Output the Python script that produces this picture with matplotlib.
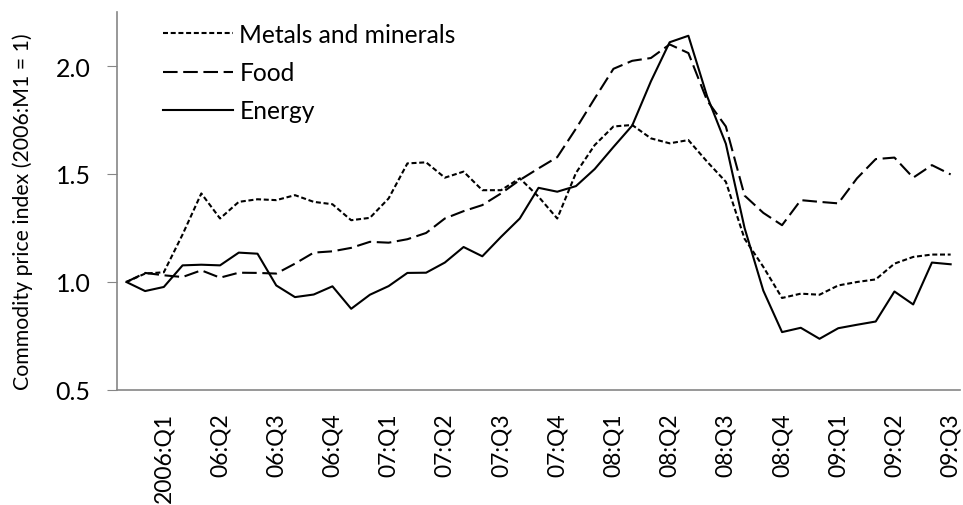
import numpy as np
import matplotlib as mpl
mpl.use('Agg')
import matplotlib.pyplot as plt

# monthly index values, 2006:M1 .. 2009:M9 (2006:M1 = 1)
metals = [1.000, 1.039, 1.045, 1.220, 1.410, 1.294, 1.371, 1.383, 1.379, 1.402,
          1.371, 1.360, 1.286, 1.297, 1.387, 1.549, 1.554, 1.483, 1.511, 1.425,
          1.425, 1.480, 1.395, 1.294, 1.505, 1.634, 1.720, 1.727, 1.665, 1.642,
          1.657, 1.557, 1.464, 1.200, 1.070, 0.926, 0.946, 0.941, 0.984, 1.000,
          1.012, 1.085, 1.116, 1.127, 1.127]
food = [1.000, 1.042, 1.031, 1.023, 1.054, 1.020, 1.043, 1.042, 1.039, 1.085,
        1.136, 1.142, 1.158, 1.186, 1.182, 1.198, 1.227, 1.294, 1.328, 1.356,
        1.410, 1.472, 1.526, 1.578, 1.710, 1.850, 1.987, 2.024, 2.037, 2.100,
        2.060, 1.840, 1.720, 1.400, 1.320, 1.263, 1.379, 1.371, 1.364, 1.480,
        1.569, 1.576, 1.483, 1.541, 1.498]
energy = [1.000, 0.958, 0.977, 1.077, 1.080, 1.077, 1.136, 1.131, 0.984, 0.930,
          0.942, 0.980, 0.876, 0.941, 0.981, 1.042, 1.043, 1.090, 1.162, 1.119,
          1.209, 1.294, 1.436, 1.418, 1.444, 1.523, 1.625, 1.724, 1.929, 2.110,
          2.140, 1.860, 1.640, 1.250, 0.960, 0.768, 0.788, 0.737, 0.786, 0.802,
          0.817, 0.956, 0.896, 1.090, 1.082]
qlabels = ['2006:Q1', '06:Q2', '06:Q3', '06:Q4', '07:Q1', '07:Q2', '07:Q3', '07:Q4',
           '08:Q1', '08:Q2', '08:Q3', '08:Q4', '09:Q1', '09:Q2', '09:Q3']
yticks = [0.5, 1.0, 1.5, 2.0]

plt.rcParams['font.family'] = ['Lato', 'DejaVu Sans']
gray = '#868686'

fig = plt.figure(figsize=(9.63, 5.06), dpi=100)
ax = fig.add_axes([0.1215, 0.2273, 0.8754, 0.747])

x = np.arange(len(energy))
ax.plot(x, metals, color='k', lw=1.5, dashes=[2.4, 1.3], label='Metals and minerals')
ax.plot(x, food, color='k', lw=1.5, dashes=[7, 2.7], label='Food')
ax.plot(x, energy, color='k', lw=1.5, label='Energy')

ax.set_xlim(-0.5, len(energy) - 0.5)
ax.set_ylim(0.5, 2.25)
ax.set_yticks(yticks)
ax.set_yticklabels(['%.1f' % v for v in yticks])
ax.set_xticks(np.arange(2, len(energy), 3))
ax.set_xticklabels(qlabels, rotation=90, va='top')

for s in ['top', 'right']:
    ax.spines[s].set_visible(False)
for s in ['left', 'bottom']:
    ax.spines[s].set_color(gray)
    ax.spines[s].set_linewidth(1.2)
ax.tick_params(axis='y', direction='out', length=7, color=gray, pad=12, labelsize=18)
ax.tick_params(axis='x', length=0, pad=16, labelsize=16.5)

ax.set_ylabel('Commodity price index (2006:M1 = 1)', fontsize=15.3)
ax.yaxis.set_label_coords(-0.100, 0.475)

ax.legend(loc='upper left', bbox_to_anchor=(0.054, 0.971), frameon=False, fontsize=17.7,
          handlelength=2.85, handletextpad=0.28, labelspacing=0.62,
          borderpad=0, borderaxespad=0)

fig.savefig('out.png', dpi=100)
plt.close()
